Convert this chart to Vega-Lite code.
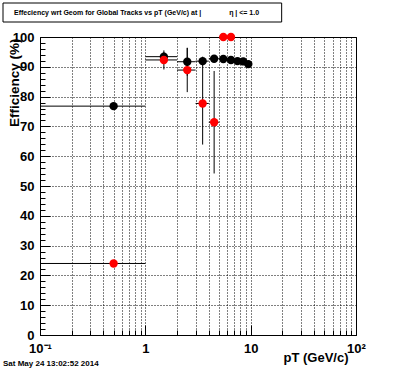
{
  "$schema": "https://vega.github.io/schema/vega-lite/v6.json",
  "width": 316,
  "height": 298,
  "autosize": "none",
  "padding": {"left": 40, "top": 37, "right": 40, "bottom": 37},
  "background": "white",
  "config": {"view": {"stroke": "black", "strokeWidth": 1}, "font": "Liberation Sans"},
  "datasets": {
    "pts": [
      {"set": "A", "pt": 0.5, "ptlo": 0, "pthi": 1, "eff": 76.8, "efflo": 76.3, "effhi": 77.3},
      {"set": "A", "pt": 1.5, "ptlo": 1, "pthi": 2, "eff": 93.4, "efflo": 91.9, "effhi": 94.9},
      {"set": "A", "pt": 2.5, "ptlo": 2, "pthi": 3, "eff": 91.7, "efflo": 87.0, "effhi": 96.4},
      {"set": "A", "pt": 3.5, "ptlo": 3, "pthi": 4, "eff": 91.9, "efflo": 90.4, "effhi": 93.4},
      {"set": "A", "pt": 4.5, "ptlo": 4, "pthi": 5, "eff": 92.7, "efflo": 91.5, "effhi": 93.9},
      {"set": "A", "pt": 5.5, "ptlo": 5, "pthi": 6, "eff": 92.6, "efflo": 91.6, "effhi": 93.6},
      {"set": "A", "pt": 6.5, "ptlo": 6, "pthi": 7, "eff": 92.3, "efflo": 91.3, "effhi": 93.3},
      {"set": "A", "pt": 7.5, "ptlo": 7, "pthi": 8, "eff": 91.9, "efflo": 90.9, "effhi": 92.9},
      {"set": "A", "pt": 8.5, "ptlo": 8, "pthi": 9, "eff": 91.8, "efflo": 90.8, "effhi": 92.8},
      {"set": "A", "pt": 9.5, "ptlo": 9, "pthi": 10, "eff": 90.9, "efflo": 89.9, "effhi": 91.9},
      {"set": "B", "pt": 0.5, "ptlo": 0, "pthi": 1, "eff": 24.0, "efflo": 23.5, "effhi": 24.5},
      {"set": "B", "pt": 1.5, "ptlo": 1, "pthi": 2, "eff": 92.3, "efflo": 89.1, "effhi": 95.5},
      {"set": "B", "pt": 2.5, "ptlo": 2, "pthi": 3, "eff": 88.9, "efflo": 81.5, "effhi": 96.3},
      {"set": "B", "pt": 3.5, "ptlo": 3, "pthi": 4, "eff": 77.7, "efflo": 63.9, "effhi": 91.5},
      {"set": "B", "pt": 4.5, "ptlo": 4, "pthi": 5, "eff": 71.4, "efflo": 54.2, "effhi": 88.6},
      {"set": "B", "pt": 5.5, "ptlo": 5, "pthi": 6, "eff": 100, "efflo": 100, "effhi": 100},
      {"set": "B", "pt": 6.5, "ptlo": 6, "pthi": 7, "eff": 100, "efflo": 100, "effhi": 100}
    ]
  },
  "layer": [
    {
      "data": {"name": "pts"},
      "mark": {"type": "rule", "color": "black", "strokeWidth": 1},
      "encoding": {
        "x": {
          "field": "ptlo",
          "type": "quantitative",
          "title": "pT (GeV/c)",
          "scale": {"type": "log", "domain": [0.1, 100], "nice": false, "clamp": true},
          "axis": {
            "values": [0.1, 0.2, 0.3, 0.4, 0.5, 0.6, 0.7, 0.8, 0.9, 1, 2, 3, 4, 5, 6, 7, 8, 9, 10, 20, 30, 40, 50, 60, 70, 80, 90, 100],
            "tickCount": 500,
            "labelExpr": "datum.value == 0.1 ? '10⁻¹' : datum.value == 1 ? '1' : datum.value == 10 ? '10' : datum.value == 100 ? '10²' : ''",
            "domain": false,
            "grid": true,
            "gridColor": "black",
            "gridDash": [1, 2],
            "gridWidth": 1,
            "gridOpacity": 1,
            "ticks": true,
            "tickColor": "black",
            "tickWidth": 1,
            "tickSize": {"condition": {"test": "datum.value == 0.1 || datum.value == 1 || datum.value == 10 || datum.value == 100", "value": -10}, "value": -5},
            "labelFont": "Liberation Sans",
            "labelFontSize": 13,
            "labelFontWeight": "bold",
            "labelColor": "black",
            "labelPadding": 17,
            "labelFlush": false,
            "labelOverlap": false,
            "labelBound": false,
            "titleFont": "Liberation Sans",
            "titleFontSize": 13,
            "titleFontWeight": "bold",
            "titleColor": "black",
            "titleAlign": "right",
            "titleBaseline": "alphabetic",
            "titleX": 308,
            "titleY": 26
          }
        },
        "x2": {"field": "pthi"},
        "y": {
          "field": "eff",
          "type": "quantitative",
          "title": "Efficiency (%)",
          "scale": {"domain": [0, 100], "nice": false},
          "axis": {
            "values": [0, 2, 4, 6, 8, 10, 12, 14, 16, 18, 20, 22, 24, 26, 28, 30, 32, 34, 36, 38, 40, 42, 44, 46, 48, 50, 52, 54, 56, 58, 60, 62, 64, 66, 68, 70, 72, 74, 76, 78, 80, 82, 84, 86, 88, 90, 92, 94, 96, 98, 100],
            "tickCount": 500,
            "labelExpr": "datum.value % 10 == 0 ? format(datum.value, 'd') : ''",
            "domain": false,
            "grid": true,
            "gridColor": "black",
            "gridDash": [1, 2],
            "gridWidth": 1,
            "gridOpacity": {"condition": {"test": "datum.value % 10 == 0", "value": 1}, "value": 0},
            "ticks": true,
            "tickColor": "black",
            "tickWidth": 1,
            "tickSize": {"condition": {"test": "datum.value % 10 == 0", "value": -10}, "value": -5},
            "labelFont": "Liberation Sans",
            "labelFontSize": 13,
            "labelFontWeight": "bold",
            "labelColor": "black",
            "labelPadding": 16,
            "labelFlush": false,
            "labelOverlap": false,
            "labelBound": false,
            "titleFont": "Liberation Sans",
            "titleFontSize": 13.5,
            "titleFontWeight": "bold",
            "titleColor": "black",
            "titleAngle": -90,
            "titleAlign": "right",
            "titleBaseline": "alphabetic",
            "titleX": -22,
            "titleY": 1
          }
        }
      }
    },
    {
      "data": {"name": "pts"},
      "mark": {"type": "rule", "color": "black", "strokeWidth": 1},
      "encoding": {
        "x": {"field": "pt", "type": "quantitative", "title": "pT (GeV/c)"},
        "y": {"field": "efflo", "type": "quantitative", "title": "Efficiency (%)"},
        "y2": {"field": "effhi"}
      }
    },
    {
      "data": {"name": "pts"},
      "mark": {"type": "point", "filled": true, "shape": "circle", "size": 70, "opacity": 1},
      "encoding": {
        "x": {"field": "pt", "type": "quantitative", "title": "pT (GeV/c)"},
        "y": {"field": "eff", "type": "quantitative", "title": "Efficiency (%)"},
        "color": {"field": "set", "type": "nominal", "scale": {"domain": ["A", "B"], "range": ["#000000", "#ff0000"]}, "legend": null}
      }
    },
    {
      "data": {"values": [{"stamp": "Sat May 24 13:02:52 2014"}]},
      "mark": {"type": "text", "align": "left", "baseline": "middle", "dx": -37, "dy": 29, "font": "Liberation Sans", "fontSize": 8, "fontWeight": "bold", "color": "black"},
      "encoding": {
        "x": {"datum": 0.1, "type": "quantitative"},
        "y": {"datum": 0, "type": "quantitative"},
        "text": {"field": "stamp"}
      }
    },
    {
      "data": {"values": [{"caption": "Effeciency wrt Geom for Global Tracks vs pT (GeV/c) at |\u2003\u2003\u2003\u2003η | <= 1.0"}]},
      "mark": {"type": "text", "align": "left", "baseline": "middle", "dx": -26, "dy": -24, "font": "Liberation Sans", "fontSize": 7, "fontWeight": "bold", "color": "black"},
      "encoding": {
        "x": {"datum": 0.1, "type": "quantitative"},
        "y": {"datum": 100, "type": "quantitative"},
        "text": {"field": "caption"}
      }
    },
    {
      "data": {"values": [{"box": "title"}]},
      "mark": {"type": "rect", "filled": false, "stroke": "black", "strokeWidth": 1, "xOffset": -37, "x2Offset": 31, "yOffset": -34, "y2Offset": -15},
      "encoding": {
        "x": {"datum": 0.1, "type": "quantitative"},
        "x2": {"datum": 10},
        "y": {"datum": 100, "type": "quantitative"},
        "y2": {"datum": 100}
      }
    }
  ]
}
